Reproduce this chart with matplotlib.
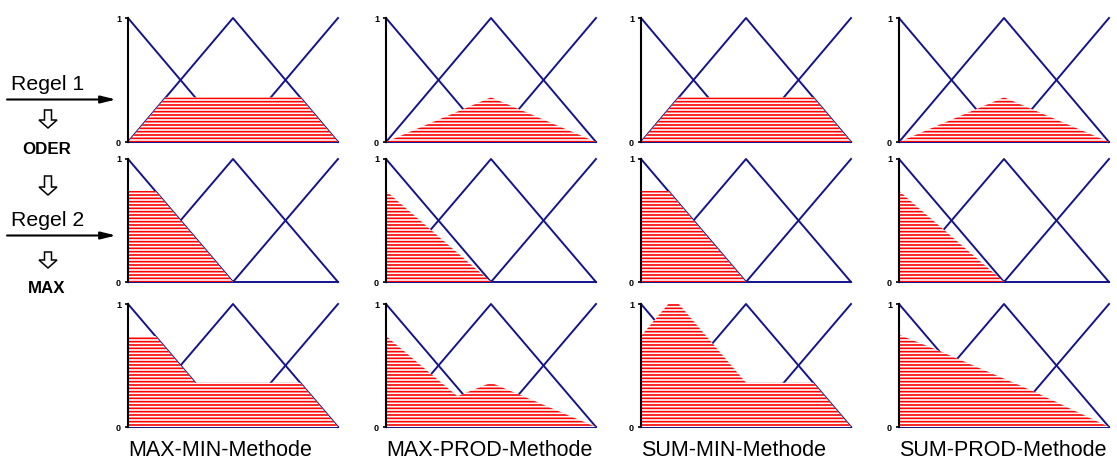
import matplotlib.pyplot as plt
import matplotlib.patches as mpatches

plt.rcParams['font.family'] = ['Liberation Sans', 'DejaVu Sans']
plt.rcParams['hatch.linewidth'] = 1.2

# Zugehoerigkeitsfunktionen (x von 0 bis 2)
mf_x = [0, 1, 2]
mf_links = [1, 0, 0]
mf_mitte = [0, 1, 0]
mf_rechts = [0, 0, 1]

methoden = ['MAX-MIN-Methode', 'MAX-PROD-Methode', 'SUM-MIN-Methode', 'SUM-PROD-Methode']
links_text = ['Regel 1', 'ODER', 'Regel 2', 'MAX']

# Regel 1 (Aktivierung ~0.36 auf mittlerer Menge)
r1_min_x = [0, 0.36, 1.64, 2]
r1_min_y = [0, 0.36, 0.36, 0]
r1_prod_x = [0, 1, 2]
r1_prod_y = [0, 0.36, 0]
# Regel 2 (Aktivierung ~0.74 auf linker Menge)
r2_min_x = [0, 0, 0.26, 1]
r2_min_y = [0, 0.74, 0.74, 0]
r2_prod_x = [0, 0, 1]
r2_prod_y = [0, 0.74, 0]
# Ergebnis
maxmin_x = [0, 0, 0.26, 0.64, 1.64, 2]
maxmin_y = [0, 0.74, 0.74, 0.36, 0.36, 0]
maxprod_x = [0, 0, 0.68, 1, 2]
maxprod_y = [0, 0.74, 0.25, 0.36, 0]
summin_x = [0, 0, 0.26, 0.36, 1.0, 1.64, 2]
summin_y = [0, 0.74, 1.0, 1.0, 0.36, 0.36, 0]
sumprod_x = [0, 0, 0.38, 1.28, 2]
sumprod_y = [0, 0.75, 0.62, 0.29, 0]

flaechen = [
    [(r1_min_x, r1_min_y), (r1_prod_x, r1_prod_y), (r1_min_x, r1_min_y), (r1_prod_x, r1_prod_y)],
    [(r2_min_x, r2_min_y), (r2_prod_x, r2_prod_y), (r2_min_x, r2_min_y), (r2_prod_x, r2_prod_y)],
    [(maxmin_x, maxmin_y), (maxprod_x, maxprod_y), (summin_x, summin_y), (sumprod_x, sumprod_y)],
]

W, H = 1117, 469
blau = '#14148c'
fig = plt.figure(figsize=(W / 100, H / 100), dpi=100)

col_left = [128, 386, 641, 899]
row_top = [18, 159, 304]
row_bot = [142, 282, 427]
breite = 210

for r in range(3):
    for c in range(4):
        ax = fig.add_axes([col_left[c] / W, 1 - row_bot[r] / H,
                           breite / W, (row_bot[r] - row_top[r]) / H])
        for y in (mf_links, mf_mitte, mf_rechts):
            ax.plot(mf_x, y, color=blau, lw=1.4, clip_on=False, zorder=1)
        fx, fy = flaechen[r][c]
        ax.fill(fx, fy, facecolor='white', edgecolor='red', hatch='-----',
                linewidth=0, zorder=2)
        ax.set_xlim(0, 2)
        ax.set_ylim(0, 1)
        for s in ('top', 'right', 'bottom'):
            ax.spines[s].set_visible(False)
        ax.spines['left'].set_linewidth(1.5)
        ax.spines['left'].set_zorder(3)
        ax.set_xticks([])
        ax.set_yticks([0, 1])
        ax.set_yticklabels(['0', '1'], fontsize=6.5, fontweight='bold')
        ax.tick_params(axis='y', length=2.5, width=1.2, pad=2.5)
        ax.patch.set_alpha(0)

# Beschriftung links und unten (Pixelkoordinaten)
ov = fig.add_axes([0, 0, 1, 1], zorder=-1)
ov.set_xlim(0, W)
ov.set_ylim(H, 0)
ov.axis('off')

ov.text(11, 90, links_text[0], fontsize=15.3, ha='left', va='baseline')
ov.text(47, 154, links_text[1], fontsize=12.2, fontweight='bold', ha='center', va='baseline')
ov.text(11, 226, links_text[2], fontsize=15.3, ha='left', va='baseline')
ov.text(47, 293, links_text[3], fontsize=12.2, fontweight='bold', ha='center', va='baseline')

for y in (99.5, 235.5):
    ov.annotate('', xy=(116, y), xytext=(7, y),
                arrowprops=dict(arrowstyle='-|>,head_length=0.9,head_width=0.22',
                                color='black', lw=1.5, shrinkA=0, shrinkB=0))

for y0, y1 in ((110, 128), (176, 195), (252, 268)):
    ov.add_patch(mpatches.FancyArrow(48, y0, 0, y1 - y0, width=7, head_width=18,
                                     head_length=8, length_includes_head=True,
                                     facecolor='white', edgecolor='black', lw=1.1))

for c in range(4):
    ov.text(col_left[c], 456, methoden[c], fontsize=15.5, ha='left', va='baseline')

fig.savefig('out.png', dpi=100)
